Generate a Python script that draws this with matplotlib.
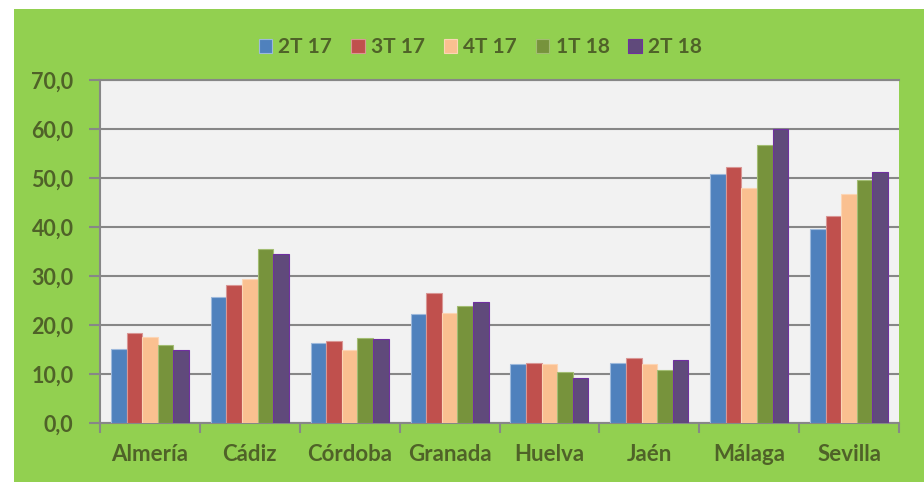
import matplotlib
matplotlib.use("Agg")
import matplotlib.pyplot as plt
from matplotlib.patches import Rectangle
import numpy as np

# =============================================================================
# Data
# =============================================================================
provincias = ["Almería", "Cádiz", "Córdoba", "Granada", "Huelva", "Jaén", "Málaga", "Sevilla"]
series = ["2T 17", "3T 17", "4T 17", "1T 18", "2T 18"]

v_2t17 = [15.1, 25.8, 16.3, 22.3, 12.1, 12.3, 50.9, 39.5]
v_3t17 = [18.3, 28.1, 16.7, 26.5, 12.2, 13.2, 52.2, 42.2]
v_4t17 = [17.5, 29.4, 14.8, 22.4, 12.0, 12.0, 48.0, 46.7]
v_1t18 = [15.9, 35.5, 17.3, 23.9, 10.5, 10.9, 56.7, 49.5]
v_2t18 = [14.8, 34.4, 17.1, 24.6, 9.2, 12.9, 60.1, 51.2]

y_ticks = [0, 10, 20, 30, 40, 50, 60, 70]

# =============================================================================
# Style
# =============================================================================
colors = ["#4F81BD", "#C0504D", "#FAC090", "#77933C", "#604A7B"]
edges = ["#9DB9DC", "#D99694", "#FCD5B5", "#A3BD73", "#7030A0"]
txt_color = "#4F6228"
green_bg = "#92D050"
grid_color = "#878787"

plt.rcParams["font.family"] = ["Lato", "DejaVu Sans"]
plt.rcParams["font.weight"] = "bold"

fig = plt.figure(figsize=(9.24, 4.82), dpi=100, facecolor="white")
# green chart area (white strip on the left and top like the original)
bg = Rectangle((14 / 924, 0), 1 - 14 / 924, (482 - 9) / 482,
               transform=fig.transFigure, facecolor=green_bg,
               edgecolor="none", zorder=-10)
fig.add_artist(bg)

ax = fig.add_axes([100 / 924, 1 - 423 / 482, 799 / 924, 343 / 482])
ax.set_zorder(2)
ax.set_facecolor("#F2F2F2")

x = np.arange(len(provincias))
w = 0.156
all_vals = [v_2t17, v_3t17, v_4t17, v_1t18, v_2t18]
for i, vals in enumerate(all_vals):
    ax.bar(x + (i - 2) * w, vals, width=w, color=colors[i], edgecolor=edges[i],
           linewidth=0.8, label=series[i], zorder=3)

ax.set_xlim(-0.5, len(provincias) - 0.5)
ax.set_ylim(0, 70)
ax.set_yticks(y_ticks)
ax.set_yticklabels([f"{t:.1f}".replace(".", ",") for t in y_ticks])
ax.yaxis.grid(True, color=grid_color, linewidth=1.5, zorder=1)
ax.set_axisbelow(True)

ax.set_xticks(x)
ax.set_xticklabels(provincias)
ax.set_xticks(np.arange(-0.5, len(provincias)), minor=True)
ax.tick_params(axis="x", which="major", length=0, pad=15, labelsize=16, labelcolor=txt_color)
ax.tick_params(axis="x", which="minor", length=7, width=1.5, color=grid_color)
ax.tick_params(axis="y", length=8, width=1.5, color=grid_color, pad=11,
               labelsize=15.5, labelcolor=txt_color)

ax.spines["right"].set_visible(False)
for s in ["top", "left", "bottom"]:
    ax.spines[s].set_color(grid_color)
    ax.spines[s].set_linewidth(1.5)

leg = fig.legend(loc="center", bbox_to_anchor=(0.52, 1 - 47 / 482), ncol=5,
                 frameon=False, handlelength=0.65, handleheight=0.65,
                 handletextpad=0.3, columnspacing=0.9, fontsize=15)
for t in leg.get_texts():
    t.set_color(txt_color)

fig.savefig("out.png", dpi=100, facecolor="white")
